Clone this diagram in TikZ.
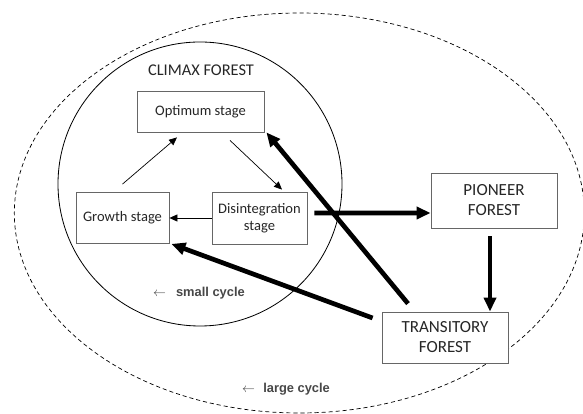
\documentclass[tikz,border=0pt]{standalone}
\usepackage{fontspec}
\setmainfont{Carlito}
\newfontfamily\cyclefont{Liberation Sans}
\usetikzlibrary{arrows.meta,positioning}

\begin{document}
\begin{tikzpicture}[stage/.style={draw=black!60,fill=white,line width=0.7pt,align=center,inner sep=0pt,text=black!85,font=\fontsize{12.4}{14.7}\selectfont},
	forest/.style={stage,minimum width=3.78cm,font=\fontsize{14.5}{17}\selectfont},
	cycle/.style={text=black!72,font=\cyclefont\bfseries\fontsize{11}{13}\selectfont},
	thinarr/.style={-{Triangle[length=2.4mm,width=2.1mm]},line width=0.6pt},
	thickarr/.style={-{Triangle[length=4.2mm,width=3.6mm]},line width=4pt}]

	\useasboundingbox (0,0) rectangle (17.49,12.42);

	% the two cycles
	\draw[line width=0.6pt,dashed,dash pattern=on 3.5pt off 2.5pt] (8.98,6.03) ellipse [x radius=8.55cm, y radius=6.0cm];
	\draw[line width=0.7pt] (6.0,6.9) circle [radius=4.26cm];

	\node[text=black!85,font=\fontsize{14}{16}\selectfont] (climax) at (6.03,10.32) {CLIMAX FOREST};

	\node[stage,minimum width=3.81cm,minimum height=1.23cm] (optimum) at (6.015,9.075) {Optimum stage};
	\node[stage,minimum width=2.79cm,minimum height=1.53cm] (growth) at (3.675,5.88) {Growth stage};
	\node[stage,minimum width=2.85cm,minimum height=1.56cm] (disint) [right of=growth, node distance=4.11cm] {Disintegration\\stage};

	\node[forest,minimum height=1.65cm] (pioneer) at (14.82,6.405) {PIONEER\\FOREST};
	\node[forest,minimum height=1.53cm] (transitory) at (13.35,2.295) {TRANSITORY\\FOREST};

	\node[cycle] (small) at (5.97,3.63) {$\leftarrow$\hspace{0.3cm}small cycle};
	\node[cycle] (large) at (8.58,0.75) {$\leftarrow$\hspace{0.25cm}large cycle};

	% small cycle
	\draw[thinarr] ([yshift=0.24cm]growth.north) -- ([xshift=-0.705cm,yshift=-0.15cm]optimum.south);
	\draw[thinarr] ([xshift=0.885cm,yshift=-0.24cm]optimum.south) -- ([xshift=0.675cm,yshift=0.06cm]disint.north);
	\draw[thinarr] (disint) -- (growth);

	% large cycle
	\draw[thickarr] ([xshift=0.21cm,yshift=0.15cm]disint.east) -- ([yshift=-0.375cm]pioneer.west);
	\coordinate (pdown) at ([xshift=-0.12cm,yshift=-0.24cm]pioneer.south);
	\draw[thickarr] (pdown) -- (pdown |- transitory.north);
	\draw[thickarr] ([xshift=-1.11cm,yshift=0.24cm]transitory.north) -- ([xshift=0.06cm]optimum.south east);
	\draw[thickarr] ([xshift=-0.27cm,yshift=0.585cm]transitory.west) -- ([xshift=0.06cm]growth.south east);

\end{tikzpicture}
\end{document}
